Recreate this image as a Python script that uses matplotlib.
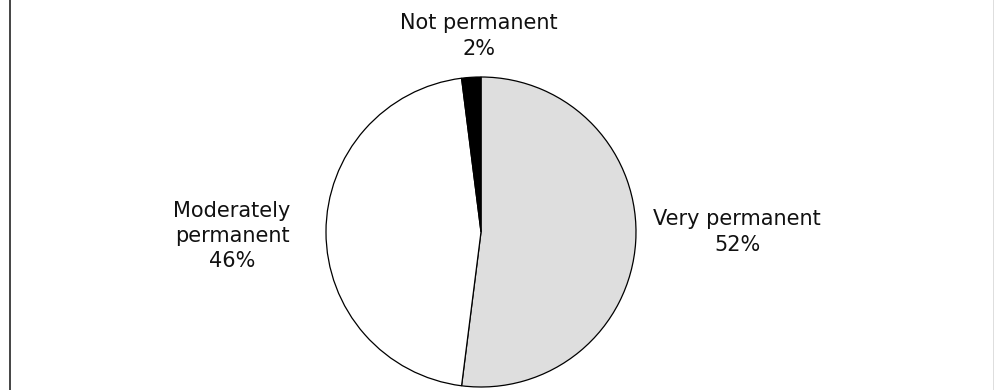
import matplotlib
matplotlib.use("Agg")
import matplotlib.pyplot as plt
from matplotlib.lines import Line2D

categories = ["Very permanent", "Moderately\npermanent", "Not permanent"]
shares = [52, 46, 2]
colors = ["#dedede", "#ffffff", "#000000"]

W, H = 995, 390
fig = plt.figure(figsize=(W / 100, H / 100), dpi=100)
ax = fig.add_axes([0, 0, 1, 1])

cx, cy, r = 481, H - 232, 155
ax.pie(shares, colors=colors, startangle=90, counterclock=False,
       center=(cx, cy), radius=r, frame=True,
       wedgeprops=dict(edgecolor="black", linewidth=0.9))
ax.set_xlim(0, W)
ax.set_ylim(0, H)
ax.set_aspect("equal")
ax.axis("off")

font = dict(family="DejaVu Sans", fontsize=15, ha="center", va="center",
            linespacing=1.32, color="#111111")
label_pos = [(737, H - 232), (232, H - 236), (479, H - 36)]
for name, val, (x, y) in zip(categories, shares, label_pos):
    ax.text(x, y, f"{name}\n{val}%", **font)

# outer frame edges
fig.add_artist(Line2D([9.5 / W, 9.5 / W], [0, 1], color="#444444", lw=1.4,
                      transform=fig.transFigure))
fig.add_artist(Line2D([994 / W, 994 / W], [0, 1], color="#d8d8d8", lw=1.2,
                      transform=fig.transFigure))

fig.savefig("out.png", dpi=100)
